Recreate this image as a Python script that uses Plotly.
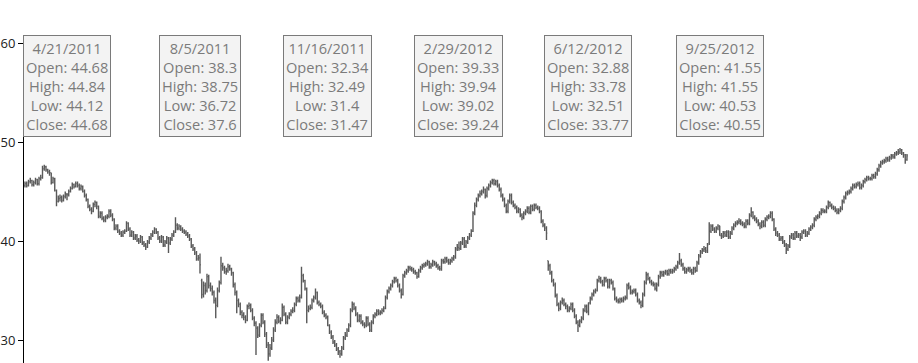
import pandas as pd
import plotly.graph_objects as go

start_date = "2011-03-18"

opens = [
    45.6, 45.8, 45.6, 46.0, 46.1, 45.7, 45.9, 46.2, 45.8, 46.3,
    46.4, 47.3, 47.5, 47.2, 47.0, 46.9, 45.9, 46.3, 45.1, 44.0,
    44.3, 44.4, 44.1, 44.5, 44.68, 44.7, 45.0, 45.3, 45.7, 45.5,
    45.8, 45.6, 45.3, 45.5, 45.0, 44.6, 44.2, 43.5, 43.2, 43.0,
    43.7, 43.9, 43.5, 42.5, 42.8, 42.3, 42.1, 42.4, 42.5, 43.0,
    42.6, 42.2, 41.3, 41.5, 41.0, 40.8, 40.6, 40.9, 41.0, 41.8,
    41.2, 40.6, 40.9, 40.3, 40.5, 40.1, 40.0, 40.4, 39.8, 39.6,
    39.4, 39.9, 40.3, 40.6, 40.9, 41.2, 40.9, 40.3, 40.0, 40.4,
    39.6, 39.9, 40.3, 39.8, 40.2, 40.6, 40.9, 41.6, 41.3, 41.5,
    41.2, 41.0, 40.9, 40.7, 40.5, 40.2, 39.5, 39.2, 38.8, 38.2,
    38.3, 36.0, 34.6, 35.5, 35.0, 36.4, 35.5, 35.2, 34.8, 34.0,
    33.5, 35.0, 35.8, 37.5, 37.3, 36.9, 37.0, 37.4, 37.2, 36.8,
    35.6, 34.8, 34.0, 33.6, 32.8, 32.5, 32.3, 32.0, 33.4, 33.5,
    33.0, 32.2, 31.7, 31.2, 30.5, 31.5, 32.5, 31.8, 30.6, 29.5,
    28.6, 29.2, 30.0, 31.0, 31.8, 32.3, 31.9, 32.0, 33.3, 32.6,
    31.8, 32.3, 32.6, 32.9, 33.0, 33.6, 34.2, 34.0, 34.3, 36.5,
    36.0, 35.2, 33.0, 33.2, 33.3, 34.0, 34.3, 34.8, 33.8, 33.6,
    33.4, 32.8, 32.5, 32.34, 31.47, 30.8, 30.3, 29.8, 29.5, 29.1,
    28.8, 28.6, 29.2, 30.2, 30.5, 31.0, 31.5, 33.0, 33.6, 33.2,
    32.6, 32.0, 32.4, 31.8, 31.6, 31.5, 32.2, 31.6, 31.0, 31.8,
    32.4, 32.6, 32.9, 32.7, 32.8, 33.0, 33.2, 34.3, 34.9, 35.2,
    35.5, 35.9, 36.2, 36.0, 35.5, 35.0, 34.6, 36.5, 36.8, 37.0,
    37.3, 37.2, 37.1, 36.9, 36.8, 36.4, 37.0, 37.3, 37.5, 37.6,
    37.7, 37.9, 37.4, 37.6, 37.9, 37.7, 37.5, 37.3, 37.2, 38.0,
    37.9, 38.2, 38.0, 37.8, 38.0, 38.2, 38.4, 39.2, 39.33, 39.24,
    39.8, 40.2, 39.5, 39.9, 40.3, 40.6, 41.0, 42.8, 43.6, 44.2,
    44.6, 44.8, 45.0, 45.2, 44.6, 45.3, 45.6, 45.9, 46.1, 45.8,
    46.0, 45.6, 45.2, 44.6, 44.2, 43.6, 43.0, 44.0, 44.6, 43.9,
    43.6, 43.4, 43.0, 43.2, 42.6, 42.4, 42.8, 43.0, 43.3, 42.9,
    43.5, 43.2, 43.6, 43.4, 43.3, 43.0, 42.0, 41.6, 41.3, 38.0,
    37.5, 36.8, 36.0, 35.6, 34.5, 33.6, 33.2, 33.8, 34.0, 33.6,
    33.4, 33.0, 33.2, 33.6, 33.0, 32.4, 31.8, 31.5, 31.9, 32.2,
    33.0, 33.4, 32.88, 33.77, 34.2, 34.6, 34.9, 35.0, 36.0, 36.2,
    35.9, 35.6, 36.2, 36.0, 35.4, 36.0, 35.8, 35.2, 34.2, 34.0,
    33.9, 34.1, 34.0, 34.2, 34.3, 35.5, 35.3, 34.8, 34.9, 35.0,
    34.6, 34.0, 33.8, 33.5, 34.6, 35.8, 36.6, 36.2, 35.9, 35.7,
    35.6, 35.2, 35.6, 36.4, 36.8, 36.6, 36.8, 36.9, 36.7, 37.0,
    36.9, 37.0, 37.2, 37.4, 37.8, 38.0, 37.6, 37.2, 36.9, 37.1,
    37.2, 37.0, 36.8, 37.2, 37.0, 37.8, 38.5, 38.9, 39.1, 39.2,
    39.0, 39.8, 41.0, 41.5, 41.2, 41.0, 41.3, 41.55, 40.55, 40.5,
    40.8, 40.6, 40.9, 40.4, 40.8, 41.3, 41.6, 41.8, 41.9, 42.0,
    41.8, 41.7, 41.5, 42.0, 41.8, 42.6, 42.9, 42.4, 42.2, 42.0,
    41.7, 41.5, 41.9, 41.6, 42.2, 42.4, 42.5, 42.8, 42.2, 41.2,
    40.8, 40.6, 40.2, 40.3, 39.9, 39.6, 39.2, 39.5, 40.4, 40.6,
    40.3, 40.8, 40.5, 40.6, 40.4, 40.9, 41.0, 40.6, 40.8, 41.2,
    41.4, 41.6, 42.2, 42.4, 42.5, 42.8, 43.1, 43.0, 43.0, 43.4,
    43.9, 43.6, 43.4, 43.3, 43.1, 42.9, 43.1, 43.3, 44.0, 44.4,
    44.8, 44.9, 45.0, 45.3, 45.6, 45.5, 45.7, 45.8, 45.4, 45.6,
    46.0, 46.2, 46.4, 46.3, 46.3, 46.6, 46.5, 46.8, 47.2, 47.6,
    47.9, 48.0, 48.1, 48.3, 48.2, 48.4, 48.6, 48.5, 48.8, 48.9,
    49.0, 49.2, 48.9, 48.7, 48.2,
]

highs = [
    46.0, 46.0, 46.2, 46.4, 46.2, 46.1, 46.4, 46.3, 46.5, 46.7,
    47.6, 47.7, 47.6, 47.3, 47.2, 46.9, 46.5, 46.4, 45.2, 44.6,
    44.7, 44.6, 44.7, 45.0, 44.84, 45.2, 45.5, 45.9, 45.8, 46.0,
    46.0, 45.8, 45.7, 45.6, 45.2, 44.8, 44.3, 43.7, 43.4, 43.9,
    44.1, 44.0, 43.6, 43.0, 43.0, 42.5, 42.6, 42.7, 43.2, 43.2,
    42.8, 42.3, 41.7, 41.7, 41.2, 41.0, 41.1, 41.2, 42.0, 41.9,
    41.4, 41.1, 41.0, 40.7, 40.7, 40.3, 40.6, 40.5, 40.0, 39.8,
    40.1, 40.5, 40.8, 41.1, 41.4, 41.3, 41.0, 40.5, 40.6, 40.5,
    40.1, 40.5, 40.4, 40.4, 40.8, 41.1, 42.4, 41.8, 41.7, 41.6,
    41.4, 41.2, 41.1, 40.9, 40.7, 40.3, 39.7, 39.4, 39.0, 38.6,
    38.75, 36.2, 35.9, 35.8, 36.7, 36.6, 35.8, 35.5, 35.0, 34.3,
    35.3, 36.0, 38.4, 37.8, 37.5, 37.3, 37.7, 37.6, 37.3, 36.9,
    35.8, 35.0, 34.2, 33.8, 33.0, 32.8, 32.5, 33.6, 33.8, 33.7,
    33.2, 32.4, 31.9, 31.4, 31.7, 32.7, 32.7, 32.0, 30.8, 29.8,
    29.6, 30.3, 31.3, 32.1, 32.6, 32.5, 32.3, 33.7, 33.5, 32.8,
    32.5, 32.8, 33.1, 33.3, 33.8, 34.4, 34.4, 34.6, 37.4, 36.7,
    36.1, 35.3, 33.5, 33.6, 34.2, 34.5, 35.2, 34.9, 34.0, 33.8,
    33.6, 33.0, 32.7, 32.49, 31.6, 31.0, 30.5, 30.0, 29.7, 29.3,
    29.0, 29.4, 30.4, 30.8, 31.2, 31.7, 33.2, 33.9, 33.8, 33.4,
    32.8, 32.6, 32.6, 32.0, 31.8, 32.4, 32.4, 31.8, 32.0, 32.6,
    32.8, 33.1, 33.1, 33.0, 33.2, 33.4, 34.5, 35.1, 35.4, 35.7,
    36.1, 36.4, 36.4, 36.2, 35.7, 35.2, 36.7, 37.0, 37.2, 37.5,
    37.5, 37.4, 37.3, 37.1, 36.9, 37.2, 37.5, 37.7, 37.8, 37.9,
    38.1, 38.0, 37.8, 38.1, 38.0, 37.9, 37.7, 37.5, 38.2, 38.2,
    38.4, 38.4, 38.2, 38.2, 38.4, 38.6, 39.4, 39.7, 39.94, 40.0,
    40.4, 40.4, 40.1, 40.5, 40.8, 41.2, 43.0, 43.9, 44.4, 44.8,
    45.1, 45.2, 45.5, 45.3, 45.5, 45.8, 46.1, 46.3, 46.3, 46.2,
    46.2, 45.8, 45.4, 44.8, 44.4, 43.8, 44.2, 44.8, 44.8, 44.1,
    43.8, 43.6, 43.4, 43.3, 42.8, 43.0, 43.2, 43.5, 43.5, 43.7,
    43.7, 43.8, 43.8, 43.6, 43.5, 43.1, 42.2, 41.8, 41.5, 38.0,
    37.7, 37.0, 36.2, 35.8, 34.7, 33.8, 34.0, 34.3, 34.2, 33.8,
    33.6, 33.4, 33.8, 33.8, 33.2, 32.6, 32.0, 32.1, 32.4, 33.2,
    33.6, 33.6, 33.78, 34.4, 34.8, 35.1, 35.2, 36.2, 36.5, 36.4,
    36.1, 36.4, 36.4, 36.2, 36.2, 36.2, 36.0, 35.3, 34.4, 34.2,
    34.3, 34.3, 34.4, 34.5, 35.7, 35.8, 35.5, 35.1, 35.2, 35.2,
    34.8, 34.2, 34.0, 34.8, 36.0, 36.9, 36.8, 36.4, 36.1, 35.9,
    35.8, 35.8, 36.6, 37.0, 37.0, 37.0, 37.1, 37.1, 37.2, 37.2,
    37.2, 37.4, 37.6, 38.0, 38.8, 38.2, 37.8, 37.4, 37.3, 37.4,
    37.4, 37.2, 37.4, 37.4, 38.0, 38.7, 39.1, 39.3, 39.5, 39.4,
    39.8, 41.9, 41.7, 41.7, 41.4, 41.5, 41.7, 41.55, 40.8, 41.0,
    41.0, 41.1, 41.1, 41.0, 41.5, 41.8, 42.0, 42.1, 42.3, 42.2,
    42.0, 41.9, 42.2, 42.2, 42.8, 43.4, 43.0, 42.6, 42.4, 42.2,
    41.9, 42.1, 42.1, 42.4, 42.6, 42.7, 43.0, 43.0, 42.3, 41.4,
    41.0, 40.8, 40.5, 40.5, 40.1, 39.8, 39.7, 40.6, 40.8, 40.8,
    41.0, 41.0, 40.8, 40.8, 41.1, 41.2, 41.2, 41.0, 41.4, 41.6,
    41.8, 42.4, 42.6, 42.7, 43.0, 43.3, 43.3, 43.2, 43.6, 44.1,
    44.0, 43.8, 43.6, 43.5, 43.3, 43.3, 43.5, 44.2, 44.6, 45.0,
    45.1, 45.2, 45.5, 45.8, 45.8, 45.9, 46.0, 46.0, 45.8, 46.2,
    46.4, 46.6, 46.6, 46.5, 46.8, 46.8, 47.0, 47.4, 47.8, 48.1,
    48.2, 48.3, 48.5, 48.5, 48.6, 48.8, 48.8, 49.0, 49.1, 49.3,
    49.4, 49.3, 49.0, 48.8, 48.8,
]

lows = [
    45.4, 45.4, 45.5, 45.8, 45.5, 45.5, 45.7, 45.6, 45.6, 46.1,
    46.3, 47.1, 47.0, 46.8, 46.6, 45.7, 45.8, 45.0, 43.5, 43.9,
    44.0, 43.9, 44.0, 44.3, 44.12, 44.5, 44.9, 45.2, 45.3, 45.4,
    45.4, 45.1, 45.1, 44.9, 44.4, 44.0, 43.3, 43.0, 42.7, 42.9,
    43.4, 43.2, 42.3, 42.3, 42.1, 41.9, 41.9, 42.2, 42.3, 42.4,
    42.0, 41.1, 41.1, 40.8, 40.6, 40.4, 40.4, 40.7, 40.9, 41.0,
    40.4, 40.4, 40.1, 40.1, 39.9, 39.7, 39.8, 39.6, 39.4, 39.1,
    39.3, 39.7, 40.1, 40.4, 40.7, 40.7, 40.1, 39.8, 39.8, 39.4,
    39.4, 39.7, 38.8, 39.6, 40.0, 40.4, 40.8, 41.1, 41.1, 41.0,
    40.8, 40.7, 40.5, 40.3, 40.0, 39.3, 39.0, 38.6, 38.0, 38.0,
    36.72, 34.2, 34.3, 34.6, 34.8, 35.2, 34.9, 34.5, 33.7, 32.2,
    33.3, 34.8, 35.6, 37.0, 36.7, 36.6, 36.8, 37.0, 36.5, 35.3,
    34.5, 32.7, 33.3, 32.5, 32.2, 32.0, 31.7, 31.9, 33.1, 32.8,
    32.0, 31.4, 28.5, 30.2, 30.3, 31.3, 31.6, 30.3, 29.2, 27.9,
    28.3, 29.0, 29.8, 30.8, 31.6, 31.7, 31.6, 31.9, 32.4, 31.6,
    31.6, 32.1, 32.4, 32.7, 32.8, 33.4, 33.8, 33.8, 34.2, 35.8,
    35.0, 31.7, 32.8, 33.0, 33.1, 33.8, 34.1, 33.6, 33.4, 33.2,
    32.6, 32.3, 32.1, 31.4, 30.6, 30.1, 29.6, 29.3, 28.9, 28.5,
    28.2, 28.4, 29.0, 30.0, 30.3, 30.8, 31.3, 32.8, 33.0, 32.4,
    31.8, 31.8, 31.6, 31.4, 31.2, 31.3, 31.4, 30.8, 30.8, 31.6,
    32.2, 32.4, 32.5, 32.5, 32.6, 32.8, 33.1, 34.1, 34.7, 35.0,
    35.3, 35.7, 35.8, 35.3, 34.8, 34.2, 34.5, 36.3, 36.6, 36.8,
    37.0, 36.9, 36.7, 36.6, 36.2, 36.3, 36.8, 37.1, 37.3, 37.4,
    37.5, 37.2, 37.2, 37.4, 37.5, 37.3, 37.1, 37.0, 37.0, 37.7,
    37.7, 37.8, 37.6, 37.6, 37.8, 38.0, 38.2, 39.0, 39.02, 39.1,
    39.6, 39.3, 39.3, 39.7, 40.1, 40.4, 40.9, 42.6, 43.4, 44.0,
    44.4, 44.6, 44.8, 44.3, 44.4, 45.1, 45.4, 45.7, 45.6, 45.6,
    45.4, 45.0, 44.4, 44.0, 43.4, 42.8, 42.8, 43.8, 43.7, 43.4,
    43.2, 42.8, 42.8, 42.4, 42.1, 42.2, 42.6, 42.8, 42.7, 42.7,
    43.0, 43.0, 43.2, 43.1, 42.8, 41.8, 41.4, 41.0, 40.1, 37.0,
    36.6, 35.8, 35.4, 34.3, 33.4, 32.9, 33.0, 33.6, 33.4, 33.1,
    32.8, 32.8, 33.0, 32.8, 32.2, 31.6, 30.8, 31.3, 31.7, 32.0,
    32.8, 32.7, 32.51, 33.6, 34.0, 34.4, 34.7, 34.9, 35.8, 35.7,
    35.4, 35.4, 35.8, 35.2, 35.2, 35.6, 35.0, 34.0, 33.8, 33.7,
    33.7, 33.8, 33.8, 34.0, 34.1, 35.1, 34.6, 34.6, 34.7, 34.4,
    33.8, 33.6, 33.2, 33.3, 34.4, 35.6, 36.0, 35.7, 35.5, 35.4,
    35.0, 34.9, 35.4, 36.2, 36.4, 36.4, 36.6, 36.5, 36.5, 36.7,
    36.7, 36.8, 37.0, 37.2, 37.6, 37.4, 37.0, 36.7, 36.7, 36.9,
    36.8, 36.6, 36.6, 36.8, 36.9, 37.6, 38.3, 38.7, 38.9, 38.8,
    38.8, 39.6, 40.8, 41.0, 40.8, 40.8, 41.1, 40.53, 40.2, 40.3,
    40.4, 40.4, 40.2, 40.2, 40.6, 41.1, 41.4, 41.6, 41.7, 41.6,
    41.5, 41.3, 41.3, 41.6, 41.6, 42.4, 42.2, 42.0, 41.8, 41.5,
    41.2, 41.3, 41.4, 41.4, 42.0, 42.2, 42.3, 42.0, 41.0, 40.5,
    40.4, 40.0, 40.0, 39.7, 39.4, 38.7, 39.0, 39.3, 40.2, 40.1,
    40.1, 40.3, 40.3, 40.0, 40.2, 40.7, 40.4, 40.4, 40.6, 41.0,
    41.2, 41.4, 42.0, 42.2, 42.3, 42.6, 42.8, 42.8, 42.8, 43.2,
    43.4, 43.2, 43.1, 42.9, 42.7, 42.7, 42.9, 43.1, 43.8, 44.2,
    44.6, 44.7, 44.8, 45.1, 45.3, 45.3, 45.5, 45.2, 45.2, 45.4,
    45.8, 46.0, 46.1, 46.1, 46.1, 46.3, 46.3, 46.6, 47.0, 47.4,
    47.7, 47.8, 47.9, 48.0, 48.0, 48.2, 48.3, 48.3, 48.6, 48.7,
    48.8, 48.7, 48.4, 47.8, 48.1,
]

closes = [
    45.8, 45.6, 46.0, 46.1, 45.7, 45.9, 46.2, 45.8, 46.3, 46.4,
    47.3, 47.5, 47.2, 47.0, 46.9, 45.9, 46.3, 45.1, 44.0, 44.3,
    44.4, 44.1, 44.5, 44.8, 44.68, 45.0, 45.3, 45.7, 45.5, 45.8,
    45.6, 45.3, 45.5, 45.0, 44.6, 44.2, 43.5, 43.2, 43.0, 43.7,
    43.9, 43.5, 42.5, 42.8, 42.3, 42.1, 42.4, 42.5, 43.0, 42.6,
    42.2, 41.3, 41.5, 41.0, 40.8, 40.6, 40.9, 41.0, 41.8, 41.2,
    40.6, 40.9, 40.3, 40.5, 40.1, 40.0, 40.4, 39.8, 39.6, 39.4,
    39.9, 40.3, 40.6, 40.9, 41.2, 40.9, 40.3, 40.0, 40.4, 39.6,
    39.9, 40.3, 39.8, 40.2, 40.6, 40.9, 41.6, 41.3, 41.5, 41.2,
    41.0, 40.9, 40.7, 40.5, 40.2, 39.5, 39.2, 38.8, 38.2, 38.3,
    37.6, 34.6, 35.5, 35.0, 36.4, 35.5, 35.2, 34.8, 34.0, 33.5,
    35.0, 35.8, 37.5, 37.3, 36.9, 37.0, 37.4, 37.2, 36.8, 35.6,
    34.8, 34.0, 33.6, 32.8, 32.5, 32.3, 32.0, 33.4, 33.5, 33.0,
    32.2, 31.7, 31.2, 30.5, 31.5, 32.5, 31.8, 30.6, 29.5, 28.6,
    29.2, 30.0, 31.0, 31.8, 32.3, 31.9, 32.0, 33.3, 32.6, 31.8,
    32.3, 32.6, 32.9, 33.0, 33.6, 34.2, 34.0, 34.3, 36.5, 36.0,
    35.2, 33.0, 33.2, 33.3, 34.0, 34.3, 34.8, 33.8, 33.6, 33.4,
    32.8, 32.5, 32.3, 31.47, 30.8, 30.3, 29.8, 29.5, 29.1, 28.8,
    28.6, 29.2, 30.2, 30.5, 31.0, 31.5, 33.0, 33.6, 33.2, 32.6,
    32.0, 32.4, 31.8, 31.6, 31.5, 32.2, 31.6, 31.0, 31.8, 32.4,
    32.6, 32.9, 32.7, 32.8, 33.0, 33.2, 34.3, 34.9, 35.2, 35.5,
    35.9, 36.2, 36.0, 35.5, 35.0, 34.6, 36.5, 36.8, 37.0, 37.3,
    37.2, 37.1, 36.9, 36.8, 36.4, 37.0, 37.3, 37.5, 37.6, 37.7,
    37.9, 37.4, 37.6, 37.9, 37.7, 37.5, 37.3, 37.2, 38.0, 37.9,
    38.2, 38.0, 37.8, 38.0, 38.2, 38.4, 39.2, 39.4, 39.24, 39.8,
    40.2, 39.5, 39.9, 40.3, 40.6, 41.0, 42.8, 43.6, 44.2, 44.6,
    44.8, 45.0, 45.2, 44.6, 45.3, 45.6, 45.9, 46.1, 45.8, 46.0,
    45.6, 45.2, 44.6, 44.2, 43.6, 43.0, 44.0, 44.6, 43.9, 43.6,
    43.4, 43.0, 43.2, 42.6, 42.4, 42.8, 43.0, 43.3, 42.9, 43.5,
    43.2, 43.6, 43.4, 43.3, 43.0, 42.0, 41.6, 41.3, 40.8, 37.5,
    36.8, 36.0, 35.6, 34.5, 33.6, 33.2, 33.8, 34.0, 33.6, 33.4,
    33.0, 33.2, 33.6, 33.0, 32.4, 31.8, 31.5, 31.9, 32.2, 33.0,
    33.4, 32.9, 33.77, 34.2, 34.6, 34.9, 35.0, 36.0, 36.2, 35.9,
    35.6, 36.2, 36.0, 35.4, 36.0, 35.8, 35.2, 34.2, 34.0, 33.9,
    34.1, 34.0, 34.2, 34.3, 35.5, 35.3, 34.8, 34.9, 35.0, 34.6,
    34.0, 33.8, 33.5, 34.6, 35.8, 36.6, 36.2, 35.9, 35.7, 35.6,
    35.2, 35.6, 36.4, 36.8, 36.6, 36.8, 36.9, 36.7, 37.0, 36.9,
    37.0, 37.2, 37.4, 37.8, 38.0, 37.6, 37.2, 36.9, 37.1, 37.2,
    37.0, 36.8, 37.2, 37.0, 37.8, 38.5, 38.9, 39.1, 39.2, 39.0,
    39.6, 41.0, 41.5, 41.2, 41.0, 41.3, 41.5, 40.55, 40.5, 40.8,
    40.6, 40.9, 40.4, 40.8, 41.3, 41.6, 41.8, 41.9, 42.0, 41.8,
    41.7, 41.5, 42.0, 41.8, 42.6, 42.9, 42.4, 42.2, 42.0, 41.7,
    41.5, 41.9, 41.6, 42.2, 42.4, 42.5, 42.8, 42.2, 41.2, 40.8,
    40.6, 40.2, 40.3, 39.9, 39.6, 39.2, 39.5, 40.4, 40.6, 40.3,
    40.8, 40.5, 40.6, 40.4, 40.9, 41.0, 40.6, 40.8, 41.2, 41.4,
    41.6, 42.2, 42.4, 42.5, 42.8, 43.1, 43.0, 43.0, 43.4, 43.9,
    43.6, 43.4, 43.3, 43.1, 42.9, 43.1, 43.3, 44.0, 44.4, 44.8,
    44.9, 45.0, 45.3, 45.6, 45.5, 45.7, 45.8, 45.4, 45.6, 46.0,
    46.2, 46.4, 46.3, 46.3, 46.6, 46.5, 46.8, 47.2, 47.6, 47.9,
    48.0, 48.1, 48.3, 48.2, 48.4, 48.6, 48.5, 48.8, 48.9, 49.0,
    49.2, 48.9, 48.7, 48.2, 48.6,
]

callout_dates = ["2011-04-21", "2011-08-05", "2011-11-16", "2012-02-29", "2012-06-12", "2012-09-25"]
y_ticks = [30, 40, 50, 60]

n = len(closes)
dates = pd.bdate_range(start_date, periods=n)
idx = list(range(n))

BAR = "#595959"
fig = go.Figure(go.Ohlc(
    x=idx, open=opens, high=highs, low=lows, close=closes,
    increasing=dict(line=dict(color=BAR, width=1.4)),
    decreasing=dict(line=dict(color=BAR, width=1.4)),
    tickwidth=0.5,
    hoverinfo="skip",
    showlegend=False,
))

def fmt(v):
    return f"{v:g}"

annotations = []
for ds in callout_dates:
    d = pd.Timestamp(ds)
    i = int(dates.get_loc(d))
    text = (f"{d.month}/{d.day}/{d.year}<br>Open: {fmt(opens[i])}<br>High: {fmt(highs[i])}"
            f"<br>Low: {fmt(lows[i])}<br>Close: {fmt(closes[i])}")
    annotations.append(dict(
        x=i, xref="x", y=1, yref="paper", xanchor="center", yanchor="top", yshift=8,
        text=text, showarrow=False, align="center",
        font=dict(family="Open Sans", size=14.6, color="#7b7b7b"),
        bgcolor="#f3f3f3", bordercolor="#7a7a7a", borderwidth=1, borderpad=2,
    ))

fig.update_layout(
    width=918, height=363,
    margin=dict(l=24, r=0, t=43, b=0),
    paper_bgcolor="white", plot_bgcolor="white",
    annotations=annotations,
    xaxis=dict(visible=False, range=[-0.57, n - 1 + 6.3], rangeslider=dict(visible=False)),
    yaxis=dict(range=[27.68, 60], tickvals=y_ticks, ticks="outside", ticklen=5,
               tickcolor="black", showline=True, linecolor="black", linewidth=1,
               showgrid=False, zeroline=False,
               tickfont=dict(family="Open Sans", size=13, color="#222")),
)

fig.write_html("out.html")
